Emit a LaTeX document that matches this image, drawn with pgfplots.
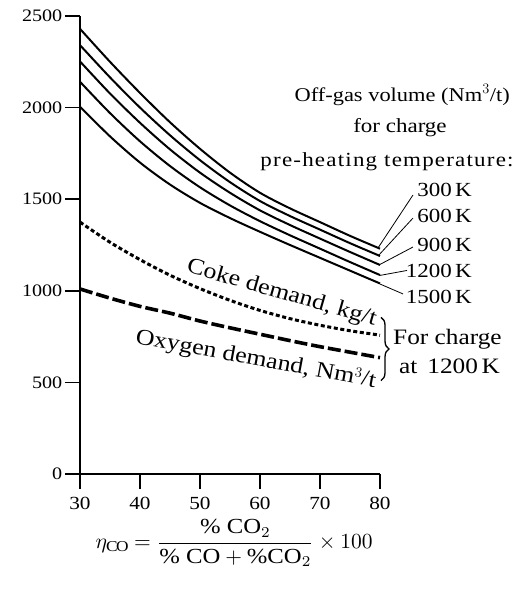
\documentclass[border=0pt]{standalone}
\usepackage{amsmath}
\usepackage{graphicx}
\usepackage{fontspec}
\setmainfont[FakeStretch=1.15]{Liberation Serif}
\usepackage{pgfplots}
\pgfplotsset{compat=1.18}
\usetikzlibrary{decorations.pathreplacing}
\newcommand{\fsA}{\fontsize{20}{24}\selectfont}
\newcommand{\fsB}{\fontsize{22.5}{26}\selectfont}
\newcommand{\fsT}{\fontsize{17.5}{21}\selectfont}
\begin{document}
\begin{tikzpicture}
\begin{axis}[
  at={(0,0)}, anchor=south west,
  scale only axis, width=300pt, height=458pt,
  xmin=30, xmax=80, ymin=0, ymax=2500,
  axis x line*=bottom, axis y line*=left,
  axis line style={line width=1.6pt},
  xtick={30,40,...,80}, ytick={0,500,...,2500},
  tick align=outside, major tick length=15pt,
  tick style={line width=1.6pt, black},
  /pgf/number format/assume math mode=true,
  /pgf/number format/1000 sep={},
  yticklabel style={font=\fsT, inner sep=2.5pt},
  xticklabel style={font=\fontsize{18.5}{22}\selectfont, inner sep=0pt, yshift=-8pt},
  clip=false,
]
% off-gas volumes
\addplot[black, line width=2pt, smooth] coordinates {(30,2430)(35,2250)(40,2080)(45,1920)(50,1775)(55,1645)(60,1535)(65,1450)(70,1375)(75,1300)(80,1230)};
\addplot[black, line width=2pt, smooth] coordinates {(30,2341)(35,2165)(40,2000)(45,1849)(50,1713)(55,1593)(60,1490)(65,1408)(70,1334)(75,1260)(80,1190)};
\addplot[black, line width=2pt, smooth] coordinates {(30,2252)(35,2077)(40,1917)(45,1772)(50,1645)(55,1535)(60,1439)(65,1359)(70,1285)(75,1212)(80,1141)};
\addplot[black, line width=2pt, smooth] coordinates {(30,2141)(35,1970)(40,1816)(45,1681)(50,1565)(55,1466)(60,1380)(65,1303)(70,1230)(75,1157)(80,1086)};
\addplot[black, line width=2pt, smooth] coordinates {(30,2005)(35,1843)(40,1700)(45,1580)(50,1480)(55,1397)(60,1322)(65,1250)(70,1180)(75,1110)(80,1040)};
% coke demand
\addplot[black, line width=3pt, smooth, dash pattern=on 4pt off 2.6pt] coordinates {(30,1375)(35,1265)(40,1170)(45,1085)(50,1012)(55,948)(60,893)(65,848)(70,812)(75,782)(80,758)};
% oxygen demand
\addplot[black, line width=3.6pt, smooth, dash pattern=on 13pt off 4pt] coordinates {(30,1010)(35,960)(40,915)(45,878)(50,835)(55,798)(60,763)(65,728)(70,695)(75,665)(80,635)};

\node[font=\fontsize{19.5}{23}\selectfont] at (83.7,2069) {Off-gas volume (Nm$^3$/t)};
\node[font=\fsA] at (83.33,1889) {for charge};
\node[font=\fsA] at (81.17,1705) {\addfontfeature{LetterSpace=6}pre-heating temperature:};

\node[font=\fsA, anchor=east, inner sep=0pt] at (95.33,1550) {300\,K};
\node[font=\fsA, anchor=east, inner sep=0pt] at (95.33,1408) {600\,K};
\node[font=\fsA, anchor=east, inner sep=0pt] at (95.33,1250) {900\,K};
\node[font=\fsA, anchor=east, inner sep=0pt] at (95.33,1108) {1200\,K};
\node[font=\fsA, anchor=east, inner sep=0pt] at (95.33,966) {1500\,K};
\draw[line width=0.8pt] (79.67,1234) -- (85.5,1523);
\draw[line width=0.8pt] (79.67,1190) -- (85.5,1397);
\draw[line width=0.8pt] (79.83,1141) -- (85.5,1239);
\draw[line width=0.8pt] (80,1084) -- (84.5,1111);
\draw[line width=0.8pt] (80,1037) -- (83.83,983);

\node[font=\fsB, rotate=-16] at (63.6,985) {Coke demand, kg/t};
\node[font=\fsB, rotate=-10.5] at (59.3,625) {Oxygen demand, Nm$^3$/t};

\draw[decorate, decoration={brace, amplitude=8pt}, line width=1.3pt] (80.17,855) -- (80.17,510);
\node[font=\fontsize{22}{26}\selectfont, anchor=west, inner sep=0pt] at (82.17,737) {For charge};
\node[font=\fontsize{22}{26}\selectfont, anchor=west, inner sep=0pt] at (83.17,590) {at\hspace{0.45em}1200\,K};

\node at (55.67,-377) {\scalebox{2.15}{$\eta_{\mathrm{CO}}=\dfrac{\text{\%\ CO}_2}{\text{\%\ CO}+\text{\%CO}_2}\times 100$}};
\end{axis}
\pgfresetboundingbox
\path (-80pt,-115pt) rectangle (434pt,474pt);
\end{tikzpicture}
\end{document}
